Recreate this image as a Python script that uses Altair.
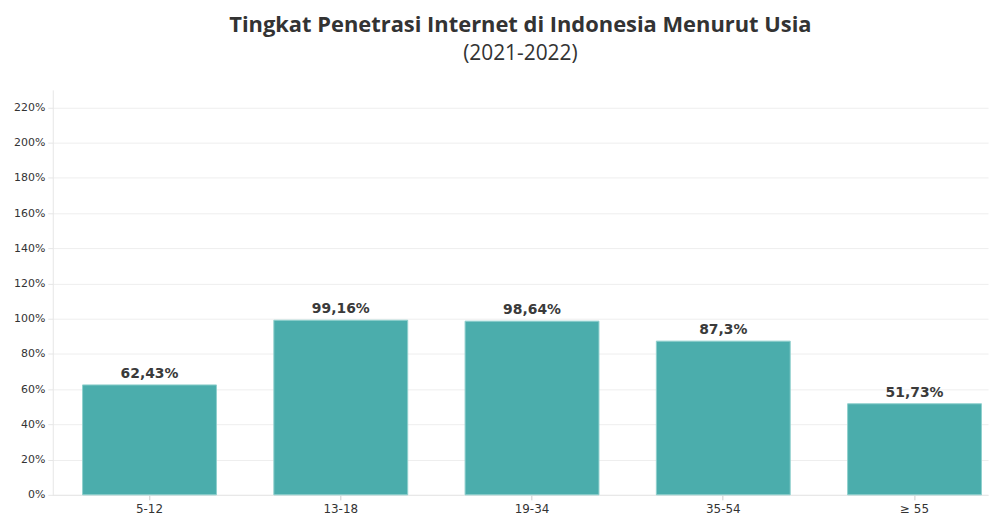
import altair as alt
import pandas as pd

categories = ["5-12", "13-18", "19-34", "35-54", "\u2265 55"]
values = [62.43, 99.16, 98.64, 87.3, 51.73]
y_ticks = [0, 20, 40, 60, 80, 100, 120, 140, 160, 180, 200, 220]

df = pd.DataFrame({
    "usia": categories,
    "nilai": values,
    "label": [f"{v}".replace(".", ",") + "%" for v in values],
})

x = alt.X("usia:N", sort=categories, title=None,
          scale=alt.Scale(paddingInner=0.3, paddingOuter=0.095, align=0.82),
          axis=alt.Axis(labelAngle=0, labelFont="DejaVu Sans", labelFontSize=12,
                        labelColor="#333", tickColor="#ccc", tickSize=5,
                        domainColor="#e6e6e6", labelPadding=4))
y = alt.Y("nilai:Q", title=None,
          scale=alt.Scale(domain=[0, 230], nice=False),
          axis=alt.Axis(values=y_ticks, labelExpr="datum.value + '%'",
                        labelFont="DejaVu Sans", labelFontSize=11, labelColor="#333",
                        gridColor="#eeeeee", domainColor="#e6e6e6", tickColor="#e6e6e6",
                        tickSize=5, labelPadding=3))

bars = alt.Chart(df).mark_bar(color="#4badac", stroke="#8fd0cd", strokeWidth=1).encode(x=x, y=y)
text = alt.Chart(df).mark_text(dy=-11, font="DejaVu Sans", fontWeight="bold",
                               fontSize=14, color="#3a3a3a").encode(x=x, y=y, text="label:N")

chart = (bars + text).properties(
    width=940, height=407,
    title=alt.TitleParams(
        text="Tingkat Penetrasi Internet di Indonesia Menurut Usia",
        subtitle="(2021-2022)",
        font="Open Sans", fontSize=22, fontWeight="bold", color="#333",
        subtitleFont="Open Sans", subtitleFontSize=21, subtitleColor="#333",
        anchor="middle", offset=25, subtitlePadding=6,
    ),
).configure_view(stroke=None)

chart.save("out.html", embed_options={"renderer": "svg", "actions": False})
